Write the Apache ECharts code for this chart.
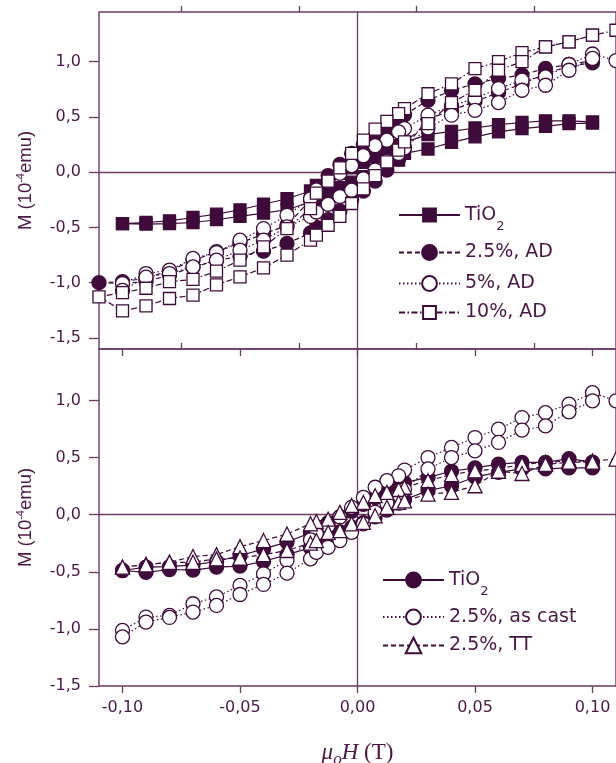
<!DOCTYPE html>
<html><head><meta charset="utf-8">
<script src="https://cdn.jsdelivr.net/npm/echarts@6/dist/echarts.min.js"></script>
<style>html,body{margin:0;padding:0;background:#fff}#c{width:616px;height:763px}</style>
</head><body><div id="c"></div><script>
// Field grid (T)
const H = [-0.11, -0.10, -0.09, -0.08, -0.07, -0.06, -0.05, -0.04, -0.03, -0.02, -0.0175, -0.0125, -0.0075, -0.0025,
            0.0025, 0.0075, 0.0125, 0.0175, 0.02, 0.03, 0.04, 0.05, 0.06, 0.07, 0.08, 0.09, 0.10, 0.11];
// Tick values
const xMajor = [-0.10, -0.05, 0, 0.05, 0.10];
const xMinor = [-0.075, -0.025, 0.025, 0.075];
const yMajor = [-1.5, -1.0, -0.5, 0, 0.5, 1.0];
const yMinor = [-1.25, -0.75, -0.25, 0.25, 0.75, 1.25];

// Top panel: upper (descending field) and lower (ascending field) branches, values in 1e-4 emu
const tio2A_up = [null, -0.465, -0.455, -0.44, -0.41, -0.38, -0.34, -0.29, -0.24, -0.17, -0.12, -0.06, -0.01, 0.04, 0.09, 0.14, 0.19, 0.24, 0.27, 0.34, 0.37, 0.40, 0.43, 0.45, 0.465, 0.465, 0.455, null];
const tio2A_lo = [null, -0.465, -0.47, -0.465, -0.455, -0.43, -0.40, -0.37, -0.34, -0.27, -0.24, -0.19, -0.14, -0.09, -0.04, 0.01, 0.05, 0.11, 0.17, 0.21, 0.27, 0.32, 0.365, 0.395, 0.415, 0.44, 0.445, null];
const ad25_up = [-1.00, -0.99, -0.96, -0.89, -0.80, -0.72, -0.64, -0.56, -0.48, -0.25, -0.14, -0.03, 0.07, 0.17, 0.25, 0.32, 0.38, 0.455, 0.52, 0.65, 0.74, 0.80, 0.85, 0.88, 0.94, 0.975, 1.01, null];
const ad25_lo = [null, -1.007, -0.99, -0.93, -0.86, -0.80, -0.76, -0.715, -0.645, -0.55, -0.50, -0.43, -0.35, -0.25, -0.17, -0.08, 0.02, 0.12, 0.22, 0.48, 0.56, 0.64, 0.72, 0.80, 0.89, 0.96, 0.99, null];
const ad5_up = [null, -1.007, -0.917, -0.887, -0.78, -0.727, -0.615, -0.51, -0.39, -0.24, -0.16, -0.08, -0.01, 0.06, 0.15, 0.24, 0.29, 0.365, 0.395, 0.516, 0.60, 0.667, 0.757, 0.833, 0.862, 0.975, 1.07, 1.01];
const ad5_lo = [null, -1.07, -0.95, -0.917, -0.857, -0.796, -0.706, -0.615, -0.495, -0.40, -0.36, -0.29, -0.22, -0.163, -0.06, 0.02, 0.10, 0.17, 0.22, 0.40, 0.516, 0.56, 0.63, 0.742, 0.787, 0.923, 1.03, null];
const ad10_up = [-1.128, -1.09, -1.05, -0.99, -0.97, -0.896, -0.796, -0.676, -0.51, -0.33, -0.19, -0.08, 0.04, 0.17, 0.29, 0.39, 0.46, 0.53, 0.576, 0.71, 0.80, 0.938, 1.0, 1.083, 1.134, 1.18, 1.24, 1.285];
const ad10_lo = [null, -1.255, -1.21, -1.143, -1.113, -1.02, -0.947, -0.866, -0.75, -0.615, -0.57, -0.48, -0.40, -0.283, -0.15, -0.03, 0.093, 0.20, 0.274, 0.44, 0.63, 0.742, 0.923, 1.0, 1.134, 1.18, 1.24, null];

// Bottom panel
const tio2B_up = [null, -0.489, -0.46, -0.455, -0.44, -0.41, -0.36, -0.30, -0.24, -0.16, -0.12, -0.07, -0.02, 0.03, 0.09, 0.15, 0.20, 0.25, 0.28, 0.326, 0.38, 0.41, 0.443, 0.457, 0.457, 0.49, 0.46, null];
const tio2B_lo = [null, -0.489, -0.505, -0.48, -0.485, -0.46, -0.45, -0.41, -0.35, -0.29, -0.25, -0.20, -0.15, -0.11, -0.07, -0.02, 0.04, 0.10, 0.13, 0.21, 0.253, 0.33, 0.37, 0.40, 0.40, 0.41, 0.41, null];
const cast_up = [null, -1.013, -0.897, -0.882, -0.78, -0.72, -0.62, -0.518, -0.40, -0.22, -0.17, -0.10, -0.02, 0.064, 0.151, 0.24, 0.297, 0.34, 0.39, 0.50, 0.588, 0.675, 0.748, 0.85, 0.893, 0.967, 1.068, 0.996];
const cast_lo = [null, -1.07, -0.94, -0.90, -0.853, -0.795, -0.699, -0.611, -0.512, -0.387, -0.33, -0.286, -0.227, -0.155, -0.08, 0.02, 0.10, 0.17, 0.22, 0.40, 0.50, 0.559, 0.632, 0.74, 0.777, 0.90, 0.996, null];
const tt_up = [null, -0.46, -0.437, -0.417, -0.367, -0.35, -0.28, -0.227, -0.17, -0.08, -0.06, -0.04, 0.02, 0.08, 0.107, 0.166, 0.195, 0.22, 0.24, 0.297, 0.35, 0.384, 0.40, 0.44, 0.457, 0.47, 0.47, 0.486];
const tt_lo = [null, -0.46, -0.44, -0.417, -0.417, -0.387, -0.38, -0.35, -0.314, -0.25, -0.227, -0.155, -0.14, -0.08, -0.067, -0.01, 0.064, 0.107, 0.12, 0.18, 0.195, 0.253, 0.38, 0.36, 0.44, 0.46, 0.46, null];

const INK = '#3e0b3a', FRAME = '#6c3a65', TEXT = '#4b1746';
const SANS = 'DejaVu Sans';

function loop(up, lo) {
  const pts = [];
  for (let i = H.length - 1; i >= 0; i--) if (up[i] != null) pts.push([H[i], up[i]]);
  for (let i = 0; i < H.length; i++) if (lo[i] != null) pts.push([H[i], lo[i]]);
  return pts;
}
function ser(name, panel, data, symbol, size, dash, filled) {
  return {
    name, type: 'line', xAxisIndex: panel * 3, yAxisIndex: panel * 3, data,
    symbol, symbolSize: size, showSymbol: true, clip: true,
    lineStyle: { color: INK, width: 1.2, type: dash },
    itemStyle: { color: filled ? INK : '#fff', borderColor: INK, borderWidth: 1.3 },
    emphasis: { disabled: true }, silent: true
  };
}
const DASH = [5, 3], DOT = [1.5, 2.5], DASHDOT = [6, 2.5, 1.5, 2.5];

const labelMap = {
  'TiO2 a': 'TiO{sub|2}', 'TiO2 b': 'TiO{sub|2}',
  '2.5%, AD': '2.5%, AD', '5%, AD': '5%, AD', '10%, AD': '10%, AD',
  '2.5%, as cast': '2.5%, as cast', '2.5%, TT': '2.5%, TT'
};
function leg(name, left, lineY, ih, lh) {
  lh = lh || 30;
  return {
    data: [name], left, top: lineY - lh / 2, padding: 0, itemWidth: 61, itemHeight: ih,
    selectedMode: false, formatter: n => labelMap[n],
    textStyle: { color: TEXT, fontSize: 19, fontFamily: SANS, lineHeight: lh,
      rich: { sub: { fontSize: 13, fontFamily: SANS, color: TEXT, lineHeight: 14, verticalAlign: 'bottom' } } }
  };
}

function xAxes(grid, labels) {
  const common = { gridIndex: grid, type: 'value', min: -0.11, max: 0.11, splitLine: { show: false } };
  return [
    Object.assign({}, common, {
      axisLine: { show: false, onZero: false },
      axisTick: { show: true, customValues: xMajor, length: 7, lineStyle: { color: FRAME, width: 1.3 } },
      axisLabel: { show: labels, customValues: xMajor, margin: 14, color: TEXT, fontSize: 16, fontFamily: SANS,
        formatter: v => v.toFixed(2).replace('.', ',') },
      name: labels ? '{i|μ}{s|o}{i|H} (T)' : '', nameLocation: 'middle', nameGap: 52,
      nameTextStyle: { color: TEXT, fontSize: 23, fontFamily: 'Liberation Serif', lineHeight: 30,
        rich: { i: { fontStyle: 'italic', fontSize: 23, fontFamily: 'Liberation Serif', color: TEXT, lineHeight: 30 },
                s: { fontStyle: 'italic', fontSize: 17, fontFamily: 'Liberation Serif', color: TEXT, lineHeight: 14, verticalAlign: 'bottom' } } }
    }),
    Object.assign({}, common, {
      axisLine: { show: false, onZero: false },
      axisTick: { show: true, customValues: xMinor, length: 6, lineStyle: { color: FRAME, width: 1.3 } },
      axisLabel: { show: false }
    }),
    Object.assign({}, common, {
      axisLine: { show: true, onZero: true, lineStyle: { color: FRAME, width: 1.3 } },
      axisTick: { show: false }, axisLabel: { show: false }
    })
  ];
}
function yAxes(grid, min, max) {
  const common = { gridIndex: grid, type: 'value', min, max, splitLine: { show: false } };
  return [
    Object.assign({}, common, {
      axisLine: { show: false, onZero: false },
      axisTick: { show: true, customValues: yMajor, length: 10, lineStyle: { color: FRAME, width: 1.3 } },
      axisLabel: { show: true, customValues: yMajor, margin: 18, color: TEXT, fontSize: 16, fontFamily: SANS,
        formatter: v => v.toFixed(1).replace('.', ',') },
      name: 'M (10{sup|-4}emu)', nameLocation: 'middle', nameRotate: 90, nameGap: 62,
      nameTextStyle: { color: TEXT, fontSize: 18.5, fontFamily: 'Liberation Sans', lineHeight: 22,
        rich: { sup: { fontSize: 11, fontFamily: 'Liberation Sans', color: TEXT, lineHeight: 12, verticalAlign: 'top' } } }
    }),
    Object.assign({}, common, {
      axisLine: { show: false, onZero: false },
      axisTick: { show: true, customValues: yMinor, length: 5, lineStyle: { color: FRAME, width: 1.3 } },
      axisLabel: { show: false }
    }),
    Object.assign({}, common, {
      axisLine: { show: true, onZero: true, lineStyle: { color: FRAME, width: 1.3 } },
      axisTick: { show: false }, axisLabel: { show: false }
    })
  ];
}

const chart = echarts.init(document.getElementById('c'), null, { renderer: 'canvas' });
chart.setOption({
  animation: false,
  backgroundColor: '#fff',
  grid: [
    { left: 99, top: 12, width: 517, height: 337, show: true, borderColor: FRAME, borderWidth: 1.4, backgroundColor: 'transparent', containLabel: false, outerBoundsMode: 'none' },
    { left: 99, top: 349, width: 517, height: 337, show: true, borderColor: FRAME, borderWidth: 1.4, backgroundColor: 'transparent', containLabel: false, outerBoundsMode: 'none' }
  ],
  xAxis: [...xAxes(0, false), ...xAxes(1, true)],
  yAxis: [...yAxes(0, -1.6, 1.45), ...yAxes(1, -1.5, 1.45)],
  legend: [
    leg('TiO2 a', 398, 215, 16, 36),
    leg('2.5%, AD', 398, 252.5, 18.5),
    leg('5%, AD', 398, 283.5, 18.5),
    leg('10%, AD', 398, 312.5, 16),
    leg('TiO2 b', 382, 580, 18.5, 36),
    leg('2.5%, as cast', 382, 617, 18.5),
    leg('2.5%, TT', 382, 645.5, 19.5)
  ],
  series: [
    ser('TiO2 a', 0, loop(tio2A_up, tio2A_lo), 'rect', 12, 'solid', true),
    ser('2.5%, AD', 0, loop(ad25_up, ad25_lo), 'circle', 14, DASH, true),
    ser('5%, AD', 0, loop(ad5_up, ad5_lo), 'circle', 14, DOT, false),
    ser('10%, AD', 0, loop(ad10_up, ad10_lo), 'rect', 12, DASHDOT, false),
    ser('TiO2 b', 1, loop(tio2B_up, tio2B_lo), 'circle', 14, 'solid', true),
    ser('2.5%, as cast', 1, loop(cast_up, cast_lo), 'circle', 14, DOT, false),
    ser('2.5%, TT', 1, loop(tt_up, tt_lo), 'triangle', 14, DASH, false)
  ]
});
</script></body></html>
